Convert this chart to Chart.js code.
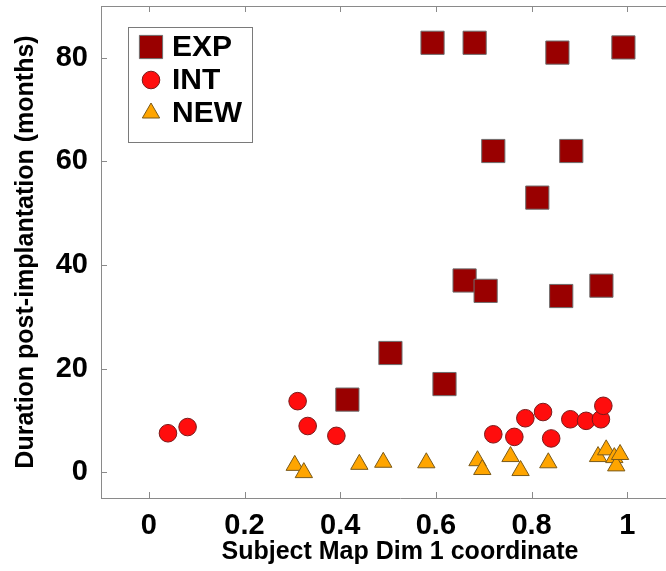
<!DOCTYPE html>
<html>
<head>
<meta charset="utf-8">
<title>Subject Map Dim 1 vs duration</title>
<script src="https://cdn.jsdelivr.net/npm/chart.js@4.4.1/dist/chart.umd.min.js"></script>
<style>
    html, body { margin: 0; padding: 0; background: #fff; overflow: hidden; }
    #wrap { width: 700px; height: 571px; }
</style>
</head>
<body>
<div id="wrap"><canvas id="scatter" width="700" height="571"></canvas></div>
<script>
// ---- data ----
const expX = [0.593, 0.681, 0.854, 0.992, 0.720, 0.883, 0.812, 0.660, 0.704, 0.862, 0.946, 0.505, 0.618, 0.415];
const expY = [82.9, 82.9, 81.0, 82.0, 62.0, 62.0, 53.0, 37.0, 35.0, 34.0, 36.0, 23.0, 17.0, 14.0];

const intX = [0.040, 0.081, 0.311, 0.332, 0.392, 0.720, 0.764, 0.787, 0.824, 0.841, 0.881, 0.914, 0.945, 0.950];
const intY = [7.5, 8.7, 13.7, 8.9, 7.0, 7.3, 6.8, 10.4, 11.6, 6.5, 10.2, 9.9, 10.2, 12.8];

const newX = [0.305, 0.324, 0.440, 0.490, 0.580, 0.687, 0.697, 0.756, 0.777, 0.835, 0.939, 0.956, 0.973, 0.977, 0.985];
const newY = [1.3, -0.1, 1.5, 1.9, 1.8, 2.2, 0.5, 3.0, 0.3, 1.8, 3.0, 4.3, 2.8, 1.2, 3.4];

const seriesNames = ['EXP', 'INT', 'NEW'];
const xTicks = [0, 0.2, 0.4, 0.6, 0.8, 1];
const xTickLabels = ['0', '0.2', '0.4', '0.6', '0.8', '1'];
const yTicks = [0, 20, 40, 60, 80];

const FONT = "'Liberation Sans', Arial, Helvetica, sans-serif";
const AXIS_GREY = '#8a8a8a';

function toPoints(xs, ys) {
    return xs.map((x, i) => ({ x: x, y: ys[i] }));
}

// inward tick marks + top frame line (matlab style box)
const frameTicks = {
    id: 'frameTicks',
    afterDraw(chart) {
        const ctx = chart.ctx;
        const a = chart.chartArea;
        const xs = chart.scales.x, ys = chart.scales.y;
        ctx.save();
        ctx.strokeStyle = AXIS_GREY;
        ctx.lineWidth = 1;
        ctx.beginPath();
        ctx.moveTo(a.left, a.top + 0.5);
        ctx.lineTo(a.right, a.top + 0.5);
        xTicks.forEach(v => {
            const px = Math.round(xs.getPixelForValue(v)) + 0.5;
            ctx.moveTo(px, a.bottom);
            ctx.lineTo(px, a.bottom - 6);
            ctx.moveTo(px, a.top);
            ctx.lineTo(px, a.top + 6);
        });
        yTicks.forEach(v => {
            const py = Math.round(ys.getPixelForValue(v)) + 0.5;
            ctx.moveTo(a.left, py);
            ctx.lineTo(a.left + 6, py);
        });
        ctx.stroke();
        ctx.restore();
    }
};

// boxed legend inside the plot, upper left
const boxLegend = {
    id: 'boxLegend',
    afterDraw(chart) {
        const ctx = chart.ctx;
        const left = 128, top = 27, w = 124, h = 115;
        ctx.save();
        ctx.fillStyle = '#fff';
        ctx.fillRect(left, top, w, h);
        ctx.strokeStyle = '#7a7a7a';
        ctx.lineWidth = 1;
        ctx.strokeRect(left + 0.5, top + 0.5, w, h);
        chart.data.datasets.forEach((ds, i) => {
            const cy = top + 20 + i * 33;
            const cx = left + 23;
            const opts = {
                pointStyle: ds.pointStyle,
                radius: ds.pointRadius,
                borderWidth: ds.borderWidth
            };
            ctx.fillStyle = ds.backgroundColor;
            ctx.strokeStyle = ds.borderColor;
            ctx.lineWidth = ds.borderWidth;
            Chart.helpers.drawPoint(ctx, opts, cx, cy);
            ctx.fillStyle = '#000';
            ctx.font = 'bold 30px ' + FONT;
            ctx.textAlign = 'left';
            ctx.textBaseline = 'middle';
            ctx.fillText(ds.label, left + 44, cy + 1);
        });
        ctx.restore();
    }
};

new Chart(document.getElementById('scatter').getContext('2d'), {
    type: 'scatter',
    data: {
        datasets: [
            {
                label: seriesNames[0],
                data: toPoints(expX, expY),
                pointStyle: 'rect',
                pointRadius: 16.4,
                backgroundColor: '#990000',
                borderColor: '#6e6e6e',
                borderWidth: 1
            },
            {
                label: seriesNames[1],
                data: toPoints(intX, intY),
                pointStyle: 'circle',
                pointRadius: 8.8,
                backgroundColor: '#ff0d0d',
                borderColor: '#7a1a1a',
                borderWidth: 1
            },
            {
                label: seriesNames[2],
                data: toPoints(newX, newY),
                pointStyle: 'triangle',
                pointRadius: 10,
                backgroundColor: '#ffa500',
                borderColor: '#7a5a1a',
                borderWidth: 1
            }
        ]
    },
    options: {
        responsive: false,
        animation: false,
        devicePixelRatio: 1,
        layout: {
            autoPadding: false,
            padding: { top: 6, right: 1, left: 0, bottom: 0 }
        },
        plugins: {
            legend: { display: false },
            tooltip: { enabled: false }
        },
        scales: {
            x: {
                type: 'linear',
                min: -0.1,
                max: 1.15,
                afterBuildTicks: function(scale) {
                    scale.ticks = xTicks.map(v => ({ value: v }));
                },
                afterFit: function(scale) {
                    scale.height = 73;
                    scale.paddingLeft = 0;
                    scale.paddingRight = 0;
                },
                grid: { display: false, drawTicks: false },
                border: { display: true, color: AXIS_GREY, width: 1 },
                ticks: {
                    color: '#000',
                    padding: 11,
                    maxRotation: 0,
                    callback: function(value, index) { return xTickLabels[index]; },
                    font: { family: FONT, size: 29, weight: 'bold' }
                },
                title: {
                    display: true,
                    text: 'Subject Map Dim 1 coordinate',
                    color: '#000',
                    padding: { top: 0, bottom: 4 },
                    font: { family: FONT, size: 25, weight: 'bold' }
                }
            },
            y: {
                type: 'linear',
                min: -5,
                max: 90,
                afterBuildTicks: function(scale) {
                    scale.ticks = yTicks.map(v => ({ value: v }));
                },
                afterFit: function(scale) {
                    scale.width = 101;
                    scale.paddingTop = 0;
                    scale.paddingBottom = 0;
                },
                grid: { display: false, drawTicks: false },
                border: { display: true, color: AXIS_GREY, width: 1 },
                ticks: {
                    color: '#000',
                    padding: 13,
                    font: { family: FONT, size: 29, weight: 'bold' }
                },
                title: {
                    display: true,
                    text: 'Duration post-implantation (months)',
                    color: '#000',
                    padding: { top: 11, bottom: 0 },
                    font: { family: FONT, size: 25, weight: 'bold' }
                }
            }
        }
    },
    plugins: [frameTicks, boxLegend]
});
</script>
</body>
</html>
